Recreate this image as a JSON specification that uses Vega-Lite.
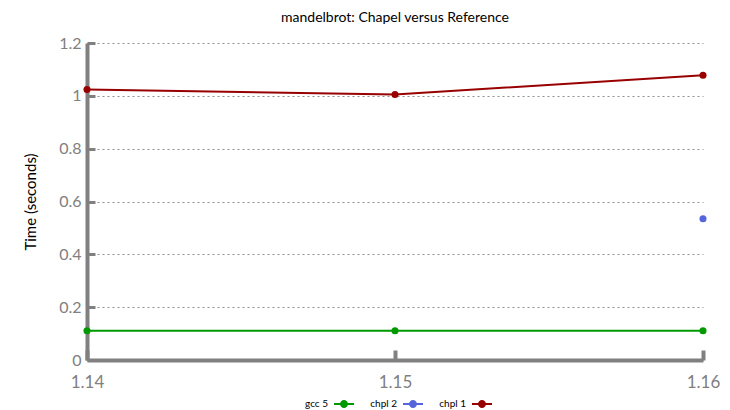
{
  "$schema": "https://vega.github.io/schema/vega-lite/v6.json",
  "width": 730,
  "height": 410,
  "autosize": {"type": "fit", "contains": "padding"},
  "padding": {"left": 23, "right": 10, "top": 11, "bottom": 1},
  "background": "white",
  "title": {"text": "mandelbrot: Chapel versus Reference", "font": "Lato", "fontSize": 14, "fontWeight": "normal", "color": "#000000", "offset": 10},
  "config": {
    "view": {"stroke": null},
    "font": "Lato",
    "legend": {"layout": {"bottom": {"anchor": "middle"}}}
  },
  "data": {
    "values": [
      {"version": 1.14, "config": "gcc 5", "time": 0.111},
      {"version": 1.15, "config": "gcc 5", "time": 0.111},
      {"version": 1.16, "config": "gcc 5", "time": 0.111},
      {"version": 1.16, "config": "chpl 2", "time": 0.535},
      {"version": 1.14, "config": "chpl 1", "time": 1.024},
      {"version": 1.15, "config": "chpl 1", "time": 1.005},
      {"version": 1.16, "config": "chpl 1", "time": 1.078}
    ]
  },
  "encoding": {
    "x": {
      "field": "version", "type": "quantitative",
      "scale": {"domain": [1.14, 1.16], "nice": false, "zero": false},
      "axis": {"title": null, "values": [1.14, 1.15, 1.16], "format": ".2f", "grid": false,
        "domainColor": "#808080", "domainWidth": 4, "tickColor": "#808080", "tickWidth": 4, "tickSize": -10,
        "labelColor": "#808080", "labelFontSize": 17, "labelPadding": 24, "labelFlush": false}
    },
    "y": {
      "field": "time", "type": "quantitative",
      "scale": {"domain": [0, 1.2], "nice": false},
      "axis": {"title": "Time (seconds)", "titleFont": "Lato", "titleFontSize": 15, "titleFontWeight": "normal", "titleColor": "#000000", "titlePadding": 20,
        "values": [0, 0.2, 0.4, 0.6, 0.8, 1, 1.2], "format": "~g",
        "grid": true, "gridColor": "#909090", "gridDash": [2, 3], "gridWidth": 1,
        "domainColor": "#808080", "domainWidth": 4, "tickColor": "#808080", "tickWidth": 3, "tickSize": -8,
        "labelColor": "#808080", "labelFontSize": 16, "labelPadding": 14}
    },
    "color": {
      "field": "config", "type": "nominal",
      "scale": {"domain": ["gcc 5", "chpl 2", "chpl 1"], "range": ["#009900", "#5566dd", "#990000"]},
      "legend": {"title": " ", "titleOrient": "left", "titlePadding": 36, "titleFontSize": 2,
        "orient": "bottom", "direction": "horizontal", "offset": 4,
        "symbolType": "M-1,-0.1H1V0.1H-1Z M0.4,0 A0.4,0.4 0 1,1 -0.4,0 A0.4,0.4 0 1,1 0.4,0 Z",
        "symbolSize": 400, "symbolStrokeWidth": 0, "labelFontSize": 10, "labelColor": "#000000",
        "labelAlign": "right", "labelOffset": -26, "columnPadding": 16,
        "encode": {"symbols": {"update": {"fill": {"scale": "color", "field": "value"}, "strokeWidth": {"value": 0}, "opacity": {"value": 1}}}}}
    }
  },
  "layer": [
    {"mark": {"type": "line", "strokeWidth": 2}},
    {"mark": {"type": "circle", "size": 50, "opacity": 1}}
  ]
}
